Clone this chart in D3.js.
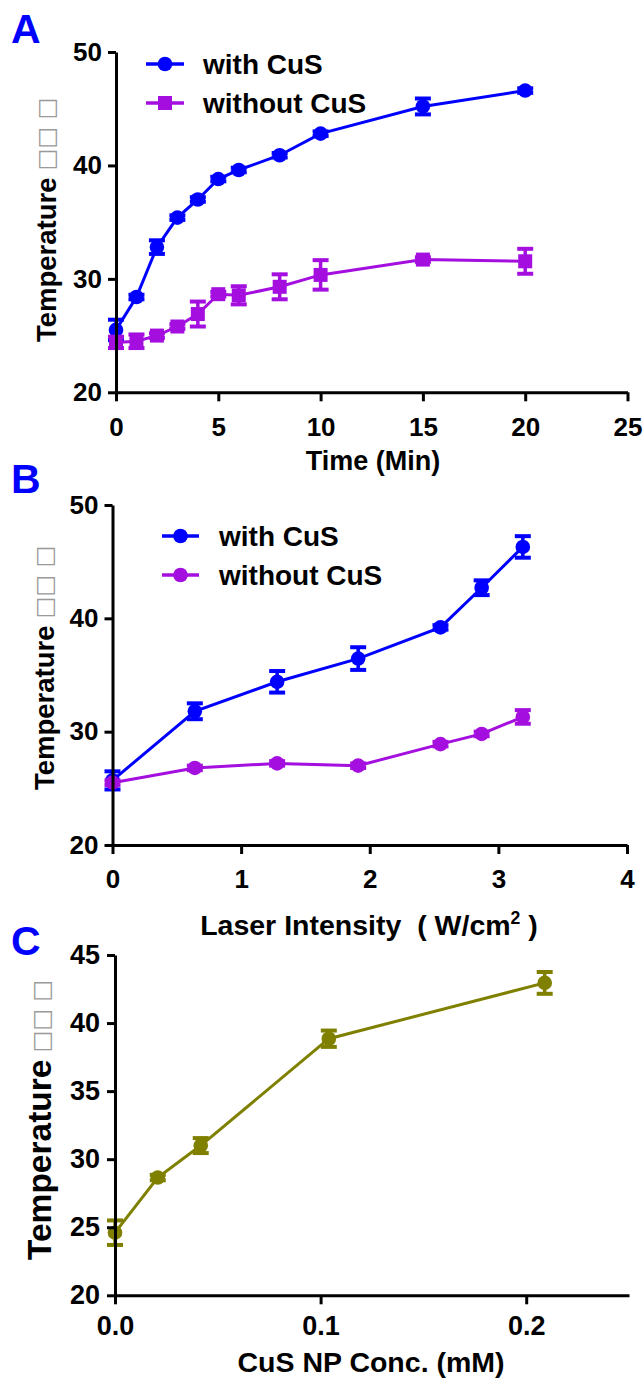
<!DOCTYPE html>
<html><head><meta charset="utf-8">
<script src="https://cdn.jsdelivr.net/npm/d3@7"></script>
<style>
body{margin:0;background:#fff}
svg{display:block}
text{font-family:"Liberation Sans",Arial,Helvetica,sans-serif;font-weight:bold}
</style>
</head><body>
<svg id="chart" width="644" height="1380"></svg>
<script>
// ---------- DATA ----------
// Panel A: temperature vs irradiation time
const timeMin = [0, 1, 2, 3, 4, 5, 6, 8, 10, 15, 20];
const tempWithCuS_A = [25.5, 28.4, 32.8, 35.4, 37.0, 38.8, 39.6, 40.9, 42.8, 45.2, 46.6];
const errWithCuS_A = [0.9, 0.2, 0.6, 0.2, 0.2, 0.2, 0.2, 0.2, 0.2, 0.7, 0.2];
const tempWithoutCuS_A = [24.4, 24.5, 25.0, 25.8, 26.9, 28.65, 28.55, 29.3, 30.35, 31.7, 31.55];
const errWithoutCuS_A = [0.5, 0.6, 0.2, 0.2, 1.1, 0.2, 0.8, 1.1, 1.3, 0.2, 1.1];
const timeTicks = [0, 5, 10, 15, 20, 25];
const tempTicksAB = [20, 30, 40, 50];

// Panel B: temperature vs laser intensity
const laserIntensity = [0, 0.64, 1.28, 1.91, 2.55, 2.87, 3.19];
const tempWithCuS_B = [25.7, 31.8, 34.4, 36.45, 39.2, 42.7, 46.3];
const errWithCuS_B = [0.8, 0.7, 0.95, 1.0, 0.2, 0.65, 0.95];
const tempWithoutCuS_B = [25.5, 26.8, 27.2, 27.0, 28.9, 29.8, 31.3];
const errWithoutCuS_B = [0.2, 0.2, 0.2, 0.2, 0.2, 0.2, 0.6];
const laserTicks = [0, 1, 2, 3, 4];

// Panel C: temperature vs CuS NP concentration
const concMM = [0, 0.0208, 0.0417, 0.104, 0.209];
const tempConc = [24.6, 28.65, 31.0, 38.85, 42.95];
const errConc = [0.9, 0.2, 0.55, 0.6, 0.8];
const concTicks = [0.0, 0.1, 0.2];
const tempTicksC = [20, 25, 30, 35, 40, 45];

const seriesNames = ["with CuS", "without CuS"];
const panelLetters = ["A", "B", "C"];

// ---------- STYLE ----------
const BLUE = "#0000ff", PURPLE = "#a40fe0", OLIVE = "#808000";
const svg = d3.select("#chart");

function drawPanel(p) {
  const x = d3.scaleLinear().domain(p.xDomain).range([p.x0, p.x1]);
  const y = d3.scaleLinear().domain(p.yDomain).range([p.yBot, p.yTop]);
  const g = svg.append("g");

  // series
  p.series.forEach(s => {
    const pts = s.x.map((v, i) => ({x: v, y: s.y[i], e: s.e[i]}));
    g.append("path").datum(pts)
      .attr("fill", "none").attr("stroke", s.color).attr("stroke-width", 3)
      .attr("d", d3.line().x(d => x(d.x)).y(d => y(d.y)));
    const eb = g.append("g").attr("stroke", s.color);
    pts.forEach(d => {
      eb.append("line").attr("x1", x(d.x)).attr("x2", x(d.x)).attr("stroke-width", 3.5)
        .attr("y1", y(d.y - d.e)).attr("y2", y(d.y + d.e));
      [d.y - d.e, d.y + d.e].forEach(v => {
        eb.append("line").attr("x1", x(d.x) - 8).attr("x2", x(d.x) + 8).attr("stroke-width", 4)
          .attr("y1", y(v)).attr("y2", y(v));
      });
    });
    pts.forEach(d => drawMarker(g, s.marker, x(d.x), y(d.y), s.color));
  });

  // axes
  const ax = g.append("g").attr("transform", `translate(0,${p.yBot})`)
    .call(d3.axisBottom(x).tickValues(p.xTicks).tickSize(9).tickSizeOuter(0)
      .tickPadding(p.xPad).tickFormat(p.xFmt));
  const ay = g.append("g").attr("transform", `translate(${p.x0},0)`)
    .call(d3.axisLeft(y).tickValues(p.yTicks).tickSize(8).tickSizeOuter(0)
      .tickPadding(p.yPad));
  [ax, ay].forEach(a => {
    a.select(".domain").attr("stroke", "#000").attr("stroke-width", 3);
    a.selectAll(".tick line").attr("stroke", "#000").attr("stroke-width", 3);
    a.selectAll(".tick text").attr("font-size", p.tickFont)
      .attr("font-family", "Liberation Sans, Arial, sans-serif").attr("font-weight", "bold").attr("fill", "#000");
  });

  // x title
  const xt = g.append("text").attr("x", p.xTitle.x).attr("y", p.xTitle.y)
    .attr("text-anchor", "middle").attr("font-size", p.xTitle.size)
    .style("white-space", "pre");
  p.xTitle.parts.forEach(part => {
    const t = xt.append("tspan").text(part.t);
    if (part.sup) t.attr("font-size", p.xTitle.size * 0.62).attr("dy", -11);
    if (part.after) t.attr("dy", 11);
  });

  // y title
  const yt = g.append("text")
    .attr("transform", `translate(${p.yTitle.x},${p.yTitle.y}) rotate(-90)`)
    .attr("font-size", p.yTitle.size).style("white-space", "pre");
  yt.append("tspan").text("Temperature");
  yt.append("tspan").text(" \u25A1\u25A1 \u25A1")
    .attr("font-family", "DejaVu Sans").attr("font-weight", "normal")
    .attr("font-size", 23).attr("fill", "#9a9a9a").attr("dy", -2);

  // panel letter
  svg.append("text").attr("x", p.letter.x).attr("y", p.letter.y)
    .attr("font-size", 41).attr("fill", BLUE).text(p.letter.t);

  // legend
  if (p.legend) {
    p.series.forEach((s, i) => {
      const ly = p.legend.y + i * p.legend.dy;
      g.append("line").attr("x1", p.legend.x1).attr("x2", p.legend.x2)
        .attr("y1", ly).attr("y2", ly).attr("stroke", s.color).attr("stroke-width", 3.5);
      drawMarker(g, s.marker, (p.legend.x1 + p.legend.x2) / 2, ly, s.color);
      g.append("text").attr("x", p.legend.tx).attr("y", ly + 10)
        .attr("font-size", 28).text(s.name);
    });
  }
}

function drawMarker(g, type, cx, cy, color) {
  if (type === "square") {
    g.append("rect").attr("x", cx - 7).attr("y", cy - 7).attr("width", 14).attr("height", 14)
      .attr("fill", color);
  } else {
    g.append("circle").attr("cx", cx).attr("cy", cy).attr("r", 7.3).attr("fill", color);
  }
}

drawPanel({
  x0: 116, x1: 627.5, yTop: 52, yBot: 392.3,
  xDomain: [0, 25], yDomain: [20, 50],
  xTicks: timeTicks, yTicks: tempTicksAB, xFmt: d3.format("d"), xPad: 16, yPad: 6, tickFont: 26,
  series: [
    {name: seriesNames[0], x: timeMin, y: tempWithCuS_A, e: errWithCuS_A, color: BLUE, marker: "circle"},
    {name: seriesNames[1], x: timeMin, y: tempWithoutCuS_A, e: errWithoutCuS_A, color: PURPLE, marker: "square"}
  ],
  legend: {x1: 146, x2: 184, y: 64, dy: 39, tx: 203},
  xTitle: {x: 373, y: 470, size: 27, parts: [{t: "Time (Min)"}]},
  yTitle: {x: 56, y: 342, size: 27.5},
  letter: {x: 11, y: 42.5, t: panelLetters[0]}
});

drawPanel({
  x0: 112.5, x1: 627, yTop: 505, yBot: 845,
  xDomain: [0, 4], yDomain: [20, 50],
  xTicks: laserTicks, yTicks: tempTicksAB, xFmt: d3.format("d"), xPad: 16, yPad: 6, tickFont: 26,
  series: [
    {name: seriesNames[0], x: laserIntensity, y: tempWithCuS_B, e: errWithCuS_B, color: BLUE, marker: "circle"},
    {name: seriesNames[1], x: laserIntensity, y: tempWithoutCuS_B, e: errWithoutCuS_B, color: PURPLE, marker: "circle"}
  ],
  legend: {x1: 162, x2: 199, y: 536, dy: 39, tx: 219},
  xTitle: {x: 369, y: 935, size: 28.5, parts: [{t: "Laser Intensity  ( W/cm"}, {t: "2", sup: true}, {t: " )", after: true}]},
  yTitle: {x: 54, y: 790, size: 27.5},
  letter: {x: 11, y: 493, t: panelLetters[1]}
});

drawPanel({
  x0: 115, x1: 629, yTop: 955, yBot: 1295.3,
  xDomain: [0, 0.25], yDomain: [20, 45],
  xTicks: concTicks, yTicks: tempTicksC, xFmt: d3.format(".1f"), xPad: 12, yPad: 7, tickFont: 27,
  series: [
    {name: "CuS", x: concMM, y: tempConc, e: errConc, color: OLIVE, marker: "circle"}
  ],
  legend: null,
  xTitle: {x: 371, y: 1371.5, size: 28.5, parts: [{t: "CuS NP Conc. (mM)"}]},
  yTitle: {x: 51, y: 1260, size: 33.5},
  letter: {x: 11, y: 955, t: panelLetters[2]}
});
</script>
</body></html>
